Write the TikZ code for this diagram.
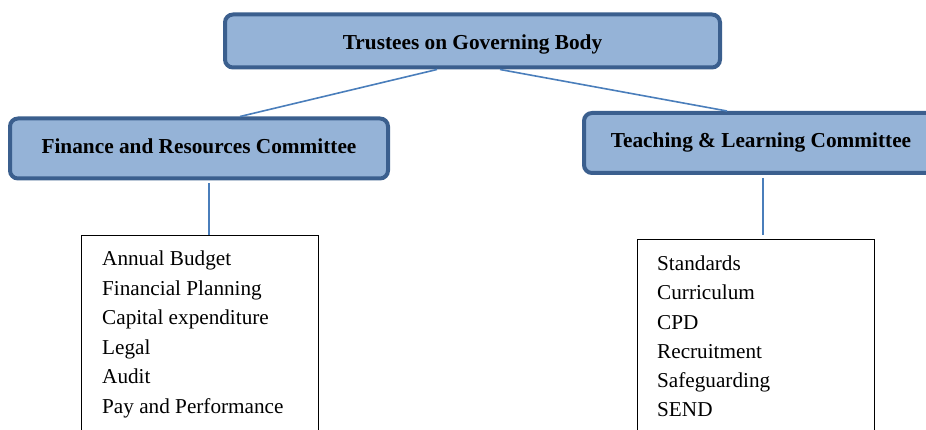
\documentclass[tikz,border=0pt]{standalone}
\usepackage{fontspec}
\setmainfont{Liberation Serif}
\definecolor{boxfill}{HTML}{95B3D7}
\definecolor{boxedge}{HTML}{3B5F8E}
\definecolor{linkblue}{HTML}{4A7EBB}
\begin{document}
\begin{tikzpicture}[x=1pt,y=-1pt,
  committee/.style={draw=boxedge, fill=boxfill, line width=4pt, rounded corners=8pt,
    inner sep=0pt, font=\fontsize{21.3}{25}\selectfont\bfseries},
  listbox/.style={draw=black, line width=0.9pt, inner sep=0pt},
  item/.style={anchor=base west, inner sep=0pt, font=\fontsize{21.2}{25}\selectfont},
  link/.style={draw=linkblue, line width=1.6pt}]
\useasboundingbox (0,0) rectangle (926,430);
\clip (0,0) rectangle (926,430);

% committee boxes
\node[committee, minimum width=495pt, minimum height=53pt, text height=20pt, text depth=2pt] (top) at (472.5,41) {Trustees on Governing Body};
\node[committee, minimum width=378pt, minimum height=60pt, text height=14pt, text depth=3pt] (fin) at (199,148.5) {Finance and Resources Committee};
\node[committee, minimum width=354pt, minimum height=60pt, text height=14pt, text depth=4pt] (teach) at (761,143) {Teaching \& Learning Committee};

% remit boxes (run off the bottom edge)
\node[listbox, minimum width=237pt, minimum height=215pt] (lbox) at (199.5,342.5) {};
\node[listbox, minimum width=237pt, minimum height=211pt] (rbox) at (755.5,344.5) {};

% remit lists
\foreach \t [count=\i] in {Annual Budget, Financial Planning, Capital expenditure, Legal, Audit, Pay and Performance}
  \node[item] (f\i) at (102,{266+29.4*(\i-1)}) {\t};
\foreach \t [count=\i] in {Standards, Curriculum, CPD, Recruitment, Safeguarding, SEND}
  \node[item] (t\i) at (657,{270.7+29.2*(\i-1)}) {\t};

% connectors
\draw[link] ([xshift=-35.5pt]top.south) -- ([xshift=41pt]fin.north);
\draw[link] ([xshift=27.5pt]top.south) -- ([xshift=-34pt]teach.north);
\draw[link] ([xshift=10pt,yshift=-3pt]fin.south) -- ([xshift=10pt]fin.south |- lbox.north);
\draw[link] ([xshift=2pt,yshift=-3pt]teach.south) -- ([xshift=2pt,yshift=4pt]teach.south |- rbox.north);
\end{tikzpicture}
\end{document}
